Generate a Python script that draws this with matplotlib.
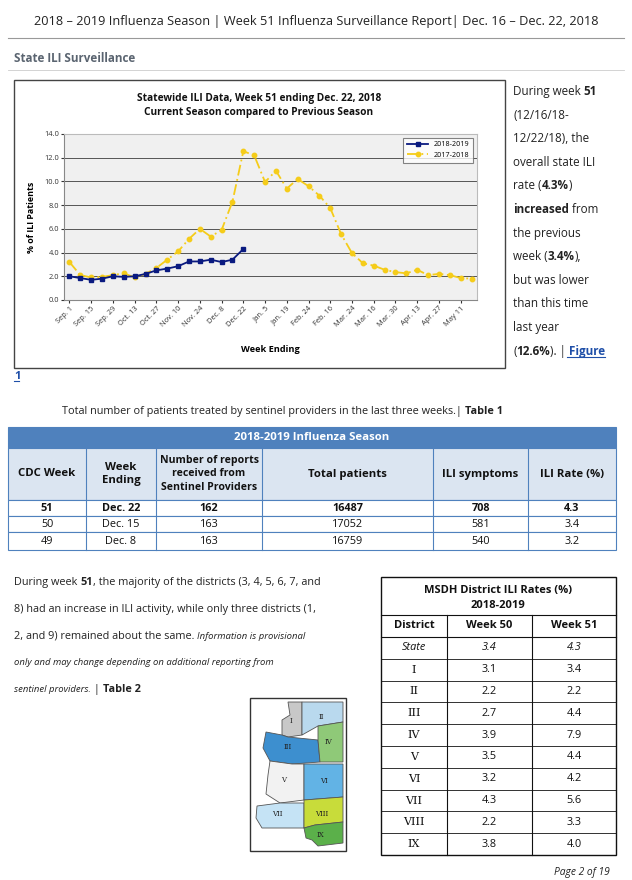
import matplotlib
matplotlib.use("Agg")
import matplotlib.pyplot as plt
from matplotlib.patches import Rectangle, Polygon
from matplotlib.lines import Line2D

weeks = ["Sep. 1", "Sep. 15", "Sep. 29", "Oct. 13", "Oct. 27", "Nov. 10", "Nov. 24", "Dec. 8",
         "Dec. 22", "Jan. 5", "Jan. 19", "Feb. 24", "Feb. 16", "Mar. 24", "Mar. 16", "Mar. 30",
         "Apr. 13", "Apr. 27", "May 11"]
cur = [2.0, 1.85, 1.7, 1.8, 2.0, 1.95, 2.0, 2.2, 2.5, 2.65, 2.85, 3.25, 3.25, 3.4, 3.2, 3.4, 4.3]
prev = [3.2, 2.1, 1.9, 1.95, 2.1, 2.25, 1.9, 2.2, 2.7, 3.4, 4.1, 5.15, 6.0, 5.35, 5.9, 8.3, 12.55,
        12.2, 9.95, 10.9, 9.4, 10.2, 9.6, 8.8, 7.75, 5.55, 3.95, 3.1, 2.9, 2.55, 2.35, 2.25, 2.55,
        2.1, 2.2, 2.1, 1.85, 1.8]

t1_header = ["CDC Week", "Week\nEnding", "Number of reports\nreceived from\nSentinel Providers",
             "Total patients", "ILI symptoms", "ILI Rate (%)"]
t1_rows = [["51", "Dec. 22", "162", "16487", "708", "4.3"],
           ["50", "Dec. 15", "163", "17052", "581", "3.4"],
           ["49", "Dec. 8", "163", "16759", "540", "3.2"]]
t2_districts = ["State", "I", "II", "III", "IV", "V", "VI", "VII", "VIII", "IX"]
t2_w50 = ["3.4", "3.1", "2.2", "2.7", "3.9", "3.5", "3.2", "4.3", "2.2", "3.8"]
t2_w51 = ["4.3", "3.4", "2.2", "4.4", "7.9", "4.4", "4.2", "5.6", "3.3", "4.0"]

W, H = 632, 880
plt.rcParams['font.family'] = ['Open Sans', 'DejaVu Sans']
fig = plt.figure(figsize=(W/100, H/100), dpi=100)
fig.patch.set_facecolor('white')
pg = fig.add_axes([0, 0, 1, 1])
pg.set_xlim(0, W); pg.set_ylim(H, 0); pg.axis('off')
renderer = fig.canvas.get_renderer()

TXT = '#222222'
pg.text(316, 22, "2018 – 2019 Influenza Season | Week 51 Influenza Surveillance Report| Dec. 16 – Dec. 22, 2018",
        ha='center', va='center', fontsize=9.2, color=TXT)
pg.add_line(Line2D([8, 624], [38, 38], color='#999999', lw=0.8))
pg.text(14, 58, "State ILI Surveillance", ha='left', va='center', fontsize=8.4,
        fontweight='bold', color='#5a6470')
pg.add_line(Line2D([8, 624], [70, 70], color='#cccccc', lw=0.6))

def rich(x, y, parts, size=8.2):
    cx = x
    for s, kw in parts:
        kw2 = dict(fontsize=size, color=TXT, va='baseline', ha='left')
        kw2.update(kw)
        t = pg.text(cx, y, s, **kw2)
        bb = t.get_window_extent(renderer=renderer)
        cx += bb.width
    return cx

B = {'fontweight': 'bold'}
N = {}
I = {'fontstyle': 'italic'}
BL = {'fontweight': 'bold', 'color': '#1f4fa8'}

rlines = [[("During week ", N), ("51", B)], [("(12/16/18-", N)], [("12/22/18), the", N)],
          [("overall state ILI", N)], [("rate (", N), ("4.3%", B), (")", N)],
          [("increased", B), (" from", N)], [("the previous", N)], [("week (", N), ("3.4%", B), ("),", N)],
          [("but was lower", N)], [("than this time", N)], [("last year", N)],
          [("(", N), ("12.6%", B), ("). | ", N), ("Figure", BL)]]
for i, ln in enumerate(rlines):
    end = rich(513, 95 + i*23.6, ln, size=8.4)
pg.add_line(Line2D([end - 38, end], [357, 357], color='#1f4fa8', lw=0.8))
pg.text(14, 379, "1", fontsize=8.2, fontweight='bold', color='#1f4fa8', va='baseline')
pg.add_line(Line2D([14, 19], [381, 381], color='#1f4fa8', lw=0.8))

pg.add_patch(Rectangle((14, 80), 491, 288, fill=False, ec='#444444', lw=1.0))
pg.text(259, 98, "Statewide ILI Data, Week 51 ending Dec. 22, 2018", ha='center', va='center',
        fontsize=7.3, fontweight='bold', color='#111111')
pg.text(259, 113, "Current Season compared to Previous Season", ha='center', va='center',
        fontsize=7.3, fontweight='bold', color='#111111')

ax = fig.add_axes([64/W, 1-300/H, (477-64)/W, (300-134)/H])
ax.set_facecolor('#f0f0f0')
n = len(prev)
ax.plot(list(range(n)), prev, color='#f5cc1a', ls=(0, (6, 2, 1, 2)), lw=1.3, marker='o', ms=3.2, label='2017-2018')
ax.plot(list(range(len(cur))), cur, color='#0a1a80', lw=1.3, marker='s', ms=3.2, label='2018-2019')
ax.set_xlim(-0.5, n - 0.5)
ax.set_ylim(0, 14)
yt = [0, 2, 4, 6, 8, 10, 12, 14]
ax.set_yticks(yt)
ax.set_yticklabels([f"{v:.1f}" for v in yt], fontsize=5.4)
ax.set_xticks(list(range(0, n, 2)))
ax.set_xticklabels(weeks, rotation=45, ha='right', rotation_mode='anchor', fontsize=5.4)
ax.grid(axis='y', color='#555555', lw=0.7)
ax.set_axisbelow(True)
for s in ['top', 'right']:
    ax.spines[s].set_color('#bbbbbb')
ax.spines['left'].set_color('#888888'); ax.spines['bottom'].set_color('#888888')
ax.tick_params(length=2, pad=1.5, colors='#333333')
ax.set_ylabel("% of ILI Patients", fontsize=6.4, fontweight='bold', labelpad=6)
ax.text(0.5, -0.30, "Week Ending", transform=ax.transAxes, ha='center', va='center',
        fontsize=6.6, fontweight='bold')
h, l = ax.get_legend_handles_labels()
leg = ax.legend(h[::-1], l[::-1], loc='upper right', fontsize=5.2, frameon=True, fancybox=False,
                edgecolor='#666666', borderpad=0.5, handlelength=3)
leg.get_frame().set_linewidth(0.8)

rich(62, 414, [("Total number of patients treated by sentinel providers in the last three weeks.| ", N),
               ("Table 1", B)], size=7.8)

TB = '#4f81bd'
cols = [8, 86, 156, 262, 433, 528, 616]
pg.add_patch(Rectangle((8, 427), 608, 21, fc=TB, ec=TB, lw=0.8))
pg.text(312, 438, "2018-2019 Influenza Season", ha='center', va='center', fontsize=8.2,
        fontweight='bold', color='white')
pg.add_patch(Rectangle((8, 448), 608, 52, fc='#dbe5f1', ec=TB, lw=0.8))
for i, hd in enumerate(t1_header):
    cx = (cols[i] + cols[i+1]) / 2
    pg.text(cx, 474, hd, ha='center', va='center', fontsize=8.2 if i != 2 else 7.6,
            fontweight='bold', color='#111111', linespacing=1.25)
rys = [500, 516, 532, 550]
for r, row in enumerate(t1_rows):
    pg.add_patch(Rectangle((8, rys[r]), 608, rys[r+1]-rys[r], fc='white', ec=TB, lw=0.8))
    for i, v in enumerate(row):
        cx = (cols[i] + cols[i+1]) / 2
        pg.text(cx, (rys[r]+rys[r+1])/2 + 0.5, v, ha='center', va='center', fontsize=7.8,
                fontweight='bold' if r == 0 else 'normal', color='#111111')
for c in cols[1:-1]:
    pg.add_line(Line2D([c, c], [448, 550], color=TB, lw=0.8))

IS = dict(I, fontsize=6.8)
para = [[("During week ", N), ("51", B), (", the majority of the districts (3, 4, 5, 6, 7, and", N)],
        [("8) had an increase in ILI activity, while only three districts (1,", N)],
        [("2, and 9) remained about the same. ", N), ("Information is provisional", IS)],
        [("only and may change depending on additional reporting from", IS)],
        [("sentinel providers.", IS), (" | ", N), ("Table 2", B)]]
for i, ln in enumerate(para):
    rich(14, 585 + i*26.8, ln, size=7.8)

K = '#111111'
tc = [381, 447, 532, 616]
pg.add_patch(Rectangle((381, 577), 235, 278, fill=False, ec=K, lw=1.0))
pg.text(498, 590, "MSDH District ILI Rates (%)", ha='center', va='center', fontsize=8.0, fontweight='bold', color=K)
pg.text(498, 606, "2018-2019", ha='center', va='center', fontsize=8.0, fontweight='bold', color=K)
pg.add_line(Line2D([381, 616], [615, 615], color=K, lw=0.8))
for i, hd in enumerate(["District", "Week 50", "Week 51"]):
    pg.text((tc[i]+tc[i+1])/2, 626, hd, ha='center', va='center', fontsize=8.0, fontweight='bold', color=K)
rh = (855 - 637) / 10
pg.add_line(Line2D([381, 616], [637, 637], color=K, lw=0.8))
for r in range(10):
    y0 = 637 + r*rh
    if r > 0:
        pg.add_line(Line2D([381, 616], [y0, y0], color=K, lw=0.6))
    cy = y0 + rh/2
    st = 'italic' if r == 0 else 'normal'
    if r == 0:
        pg.text((tc[0]+tc[1])/2, cy, t2_districts[r], ha='center', va='center', fontsize=7.8, fontstyle=st, color=K)
    else:
        pg.text((tc[0]+tc[1])/2, cy, t2_districts[r], ha='center', va='center', fontsize=8.0,
                family='DejaVu Serif', color=K)
    pg.text((tc[1]+tc[2])/2, cy, t2_w50[r], ha='center', va='center', fontsize=7.8, fontstyle=st, color=K)
    pg.text((tc[2]+tc[3])/2, cy, t2_w51[r], ha='center', va='center', fontsize=7.8, fontstyle=st, color=K)
for c in tc[1:-1]:
    pg.add_line(Line2D([c, c], [615, 855], color=K, lw=0.8))

pg.add_patch(Rectangle((250, 698), 96, 153, fill=False, ec='#333333', lw=1.0))
regions = [
    ("I", '#c8c8c8', [(288, 702), (302, 702), (302, 735), (288, 737), (282, 735), (282, 720), (290, 715)]),
    ("II", '#b9d9ee', [(302, 702), (343, 702), (343, 722), (318, 726), (302, 735)]),
    ("III", '#3d8fcf', [(266, 732), (282, 735), (288, 737), (318, 740), (320, 762), (292, 764), (270, 761), (263, 748)]),
    ("IV", '#8fc978', [(318, 726), (343, 722), (343, 762), (320, 762), (318, 740)]),
    ("V", '#f2f2f2', [(270, 761), (292, 764), (304, 764), (304, 800), (280, 803), (266, 794), (268, 775)]),
    ("VI", '#62b3e5', [(304, 764), (343, 764), (343, 797), (304, 800)]),
    ("VII", '#c5e3f5', [(257, 806), (280, 803), (304, 803), (304, 828), (262, 828), (256, 818)]),
    ("VIII", '#c8dc3a', [(304, 800), (343, 797), (343, 822), (315, 825), (304, 828)]),
    ("IX", '#5bb04a', [(304, 828), (315, 825), (343, 822), (343, 843), (318, 846), (312, 840), (306, 838)]),
]
for name, colr, pts in regions:
    pg.add_patch(Polygon(pts, closed=True, fc=colr, ec='#555555', lw=0.6))
    cx = sum(p[0] for p in pts)/len(pts); cy = sum(p[1] for p in pts)/len(pts)
    pg.text(cx, cy, name, ha='center', va='center', fontsize=5, family='DejaVu Serif', color='#222222')

pg.text(610, 873, "Page 2 of 19", ha='right', va='center', fontsize=7.4, fontstyle='italic', color=TXT)

fig.savefig("out.png", dpi=100)
